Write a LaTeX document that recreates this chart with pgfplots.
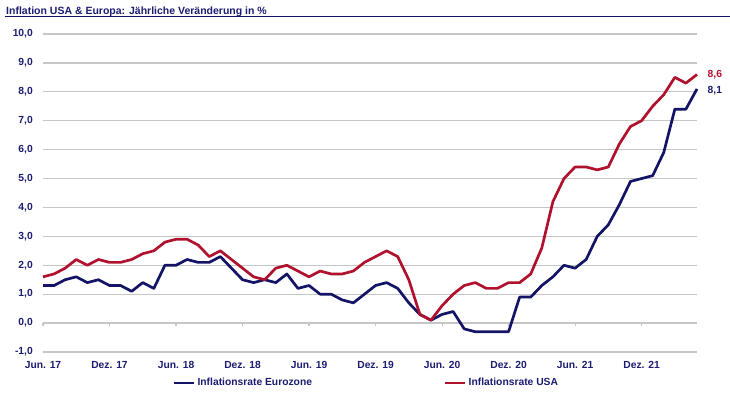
\documentclass[border=0pt]{standalone}
\usepackage{pgfplots}
\pgfplotsset{compat=1.18}
\usepackage{pgfplotstable}
\usepackage{fontspec}
\setmainfont{Liberation Sans}
\definecolor{navy}{HTML}{141466}
\definecolor{navytext}{HTML}{1C1C72}
\definecolor{usred}{HTML}{B0122D}
\definecolor{gridgray}{HTML}{C6C6C6}

\pgfplotstableread{
x y
0 1.3
1 1.3
2 1.5
3 1.6
4 1.4
5 1.5
6 1.3
7 1.3
8 1.1
9 1.4
10 1.2
11 2.0
12 2.0
13 2.2
14 2.1
15 2.1
16 2.3
17 1.9
18 1.5
19 1.4
20 1.5
21 1.4
22 1.7
23 1.2
24 1.3
25 1.0
26 1.0
27 0.8
28 0.7
29 1.0
30 1.3
31 1.4
32 1.2
33 0.7
34 0.3
35 0.1
36 0.3
37 0.4
38 -0.2
39 -0.3
40 -0.3
41 -0.3
42 -0.3
43 0.9
44 0.9
45 1.3
46 1.6
47 2.0
48 1.9
49 2.2
50 3.0
51 3.4
52 4.1
53 4.9
54 5.0
55 5.1
56 5.9
57 7.4
58 7.4
59 8.1
}\eurozone

\pgfplotstableread{
x y
0 1.6
1 1.7
2 1.9
3 2.2
4 2.0
5 2.2
6 2.1
7 2.1
8 2.2
9 2.4
10 2.5
11 2.8
12 2.9
13 2.9
14 2.7
15 2.3
16 2.5
17 2.2
18 1.9
19 1.6
20 1.5
21 1.9
22 2.0
23 1.8
24 1.6
25 1.8
26 1.7
27 1.7
28 1.8
29 2.1
30 2.3
31 2.5
32 2.3
33 1.5
34 0.3
35 0.1
36 0.6
37 1.0
38 1.3
39 1.4
40 1.2
41 1.2
42 1.4
43 1.4
44 1.7
45 2.6
46 4.2
47 5.0
48 5.4
49 5.4
50 5.3
51 5.4
52 6.2
53 6.8
54 7.0
55 7.5
56 7.9
57 8.5
58 8.3
59 8.6
}\usa

\begin{document}
\begin{tikzpicture}[x=1pt,y=1pt,font=\fontsize{10.3}{12}\selectfont\bfseries]
\path[use as bounding box] (0,0) rectangle (730,396);
\node[anchor=base west, inner sep=0pt, text=navytext, font=\fontsize{10.5}{12}\selectfont\bfseries] at (6,381.3) {Inflation USA \& Europa: Jährliche Veränderung in \%};
\draw[navy, line width=1.3pt] (5,379.4) -- (730,379.4);
\begin{axis}[
  at={(43pt,44pt)}, anchor=south west,
  scale only axis, width=654pt, height=318pt,
  xmin=0, xmax=59, ymin=-1, ymax=10,
  clip=false,
  axis line style={draw=none},
  ytick={-1,0,...,10},
  xtick={0,6,...,54},
  xticklabels={Jun. 17,Dez. 17,Jun. 18,Dez. 18,Jun. 19,Dez. 19,Jun. 20,Dez. 20,Jun. 21,Dez. 21},
  major tick length=0pt,
  ymajorgrids,
  grid style={gridgray, line width=1.3pt},
  /pgf/number format/assume math mode=true,
  yticklabel={\pgfmathprintnumber[fixed,fixed zerofill,precision=1,use comma]{\tick}},
  yticklabel style={text=navytext, inner sep=0pt, xshift=-10pt},
  xticklabel style={text=navytext, inner sep=0pt, yshift=-9pt},
  legend columns=2,
  legend style={at={(axis description cs:0.1983,-0.0975)}, anchor=west, draw=none, fill=none,
    inner sep=0pt, text=navytext,
    nodes={inner sep=0pt, anchor=west},
    /tikz/every odd column/.append style={column sep=2pt},
    /tikz/every even column/.append style={column sep=132pt}},
  legend image code/.code={\draw[#1, line width=2.7pt] (0pt,0pt) -- (20pt,0pt);},
]
\draw[gridgray, line width=1.3pt] (axis cs:0,0) -- (axis cs:59,0);
\pgfplotsinvokeforeach{0,6,...,54}{\draw[gridgray, line width=1.1pt] (axis cs:#1,0) -- ([yshift=-3pt]axis cs:#1,0);}
\addplot[navy, line width=2.7pt, line join=round] table[x=x,y=y]{\eurozone}
  node[pos=1, anchor=west, xshift=6pt, yshift=-2pt, text=navytext]{8,1};
\addlegendentry{Inflationsrate Eurozone}
\addplot[usred, line width=2.7pt, line join=round] table[x=x,y=y]{\usa}
  node[pos=1, anchor=west, xshift=6pt, yshift=0pt, text=usred]{8,6};
\addlegendentry{Inflationsrate USA}
\end{axis}
\end{tikzpicture}
\end{document}
